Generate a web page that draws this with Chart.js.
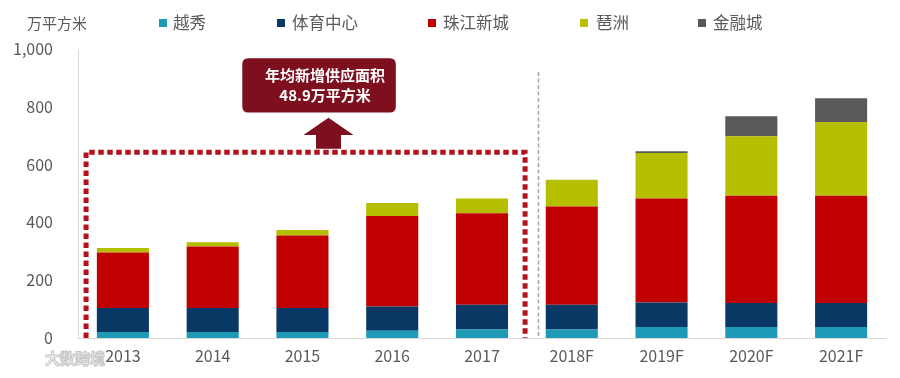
<!DOCTYPE html>
<html>
<head>
<meta charset="utf-8">
<script src="https://cdn.jsdelivr.net/npm/chart.js@4/dist/chart.umd.min.js"></script>
<style>
html,body{margin:0;padding:0;background:#fff;}
#wrap{width:900px;height:378px;position:relative;}
</style>
</head>
<body>
<div id="wrap"><canvas id="c" width="900" height="378"></canvas></div>
<script>
const categories = ['2013','2014','2015','2016','2017','2018F','2019F','2020F','2021F'];
const yuexiu   = [21, 21, 21, 25, 29, 29, 38, 38, 38];
const tiyu     = [83, 83, 83, 84, 86, 86, 85, 83, 83];
const zhujiang = [192, 213, 251, 313, 317, 340, 360, 371, 371];
const pazhou   = [15, 14, 19, 45, 51, 93, 157, 206, 255];
const jinrong  = [0, 0, 0, 0, 0, 0, 6, 69, 83];
const seriesNames = ['越秀','体育中心','珠江新城','琶洲','金融城'];
const yTicks = [0, 200, 400, 600, 800, 1000];
const unitLabel = '万平方米';
const noteLines = ['年均新增供应面积', '48.9万平方米'];
const watermark = '大数跨境';

const colors = ['#1f9ab6', '#0a3864', '#c00000', '#b6be00', '#595959'];
const FONT = "'Noto Sans CJK SC', 'Noto Sans', sans-serif";

const seriesData = [yuexiu, tiyu, zhujiang, pazhou, jinrong];
const datasets = seriesData.map((d, i) => ({
  label: seriesNames[i],
  data: d,
  backgroundColor: colors[i],
  borderWidth: 0,
  barPercentage: 0.58,
  categoryPercentage: 1.0
}));

const legendPos = [
  {sq: 159, tx: 173},
  {sq: 277, tx: 292},
  {sq: 428, tx: 443},
  {sq: 580, tx: 596},
  {sq: 698, tx: 713}
];

const overlay = {
  id: 'overlay',
  beforeDraw(chart) {
    const ctx = chart.ctx;
    ctx.save();
    ctx.fillStyle = '#fff';
    ctx.fillRect(0, 0, chart.width, chart.height);
    ctx.restore();
  },
  afterDraw(chart) {
    const ctx = chart.ctx;
    const xs = chart.scales.x, ys = chart.scales.y;
    const step = xs.getPixelForValue(1) - xs.getPixelForValue(0);
    const xAt = v => xs.getPixelForValue(0) + v * step;
    ctx.save();
    // legend
    ctx.textBaseline = 'middle';
    ctx.fillStyle = '#595959';
    ctx.font = '15px ' + FONT;
    ctx.textAlign = 'left';
    ctx.fillText(unitLabel, 27, 23);
    ctx.font = '16.5px ' + FONT;
    seriesNames.forEach((n, i) => {
      ctx.fillStyle = colors[i];
      ctx.fillRect(legendPos[i].sq, 19, 8, 8);
      ctx.fillStyle = '#595959';
      ctx.fillText(n, legendPos[i].tx, 23);
    });

    // gray dashed divider
    ctx.strokeStyle = '#a6a6a6';
    ctx.lineWidth = 1.5;
    ctx.setLineDash([4, 2.5]);
    const dx = Math.round(xAt(4.62)) + 0.5;
    ctx.beginPath();
    ctx.moveTo(dx, ys.getPixelForValue(920));
    ctx.lineTo(dx, ys.getPixelForValue(0));
    ctx.stroke();

    // dotted red frame
    ctx.strokeStyle = '#b3121c';
    ctx.lineWidth = 5;
    ctx.setLineDash([5.5, 3.5]);
    const l = xAt(-0.41), r = xAt(4.48), t = ys.getPixelForValue(643), b = ys.getPixelForValue(0);
    ctx.beginPath();
    ctx.moveTo(l, b);
    ctx.lineTo(l, t);
    ctx.lineTo(r, t);
    ctx.lineTo(r, b);
    ctx.stroke();
    ctx.setLineDash([]);

    // arrow
    const ac = xAt(2.29);
    const aTop = ys.getPixelForValue(762), aMid = ys.getPixelForValue(702), aBot = ys.getPixelForValue(655);
    ctx.fillStyle = '#7d0f1f';
    ctx.beginPath();
    ctx.moveTo(ac, aTop);
    ctx.lineTo(ac + 25, aMid);
    ctx.lineTo(ac + 12.5, aMid);
    ctx.lineTo(ac + 12.5, aBot);
    ctx.lineTo(ac - 12.5, aBot);
    ctx.lineTo(ac - 12.5, aMid);
    ctx.lineTo(ac - 25, aMid);
    ctx.closePath();
    ctx.fill();

    // note box
    const bl = xAt(1.33), br = xAt(3.04), bt = ys.getPixelForValue(968), bb = ys.getPixelForValue(780);
    const rad = 6;
    ctx.beginPath();
    ctx.moveTo(bl + rad, bt);
    ctx.lineTo(br - rad, bt);
    ctx.quadraticCurveTo(br, bt, br, bt + rad);
    ctx.lineTo(br, bb - rad);
    ctx.quadraticCurveTo(br, bb, br - rad, bb);
    ctx.lineTo(bl + rad, bb);
    ctx.quadraticCurveTo(bl, bb, bl, bb - rad);
    ctx.lineTo(bl, bt + rad);
    ctx.quadraticCurveTo(bl, bt, bl + rad, bt);
    ctx.closePath();
    ctx.fill();
    ctx.fillStyle = '#ffffff';
    ctx.font = 'bold 15px ' + FONT;
    ctx.textAlign = 'center';
    const bc = (bl + br) / 2 + 6;
    ctx.fillText(noteLines[0], bc, bt + 17);
    ctx.fillText(noteLines[1], bc, bt + 37);

    // watermark
    ctx.textAlign = 'left';
    ctx.font = 'bold 15px ' + FONT;
    ctx.lineWidth = 1.2;
    ctx.strokeStyle = '#c8c8c8';
    ctx.fillStyle = 'rgba(255,255,255,0.95)';
    ctx.fillText(watermark, 45, 358);
    ctx.strokeText(watermark, 45, 358);
    ctx.restore();
  }
};

new Chart(document.getElementById('c'), {
  type: 'bar',
  data: { labels: categories, datasets },
  options: {
    responsive: false,
    animation: false,
    devicePixelRatio: 1,
    layout: { padding: { top: 49, right: 14, left: 0, bottom: 0 } },
    plugins: { legend: { display: false }, tooltip: { enabled: false } },
    scales: {
      x: {
        stacked: true,
        grid: { display: false, drawTicks: false },
        border: { display: true, color: '#d9d9d9', width: 1 },
        ticks: { color: '#595959', font: { size: 16, family: FONT }, padding: 8, maxRotation: 0 },
        afterFit(s) { s.height = 40; }
      },
      y: {
        stacked: true,
        min: 0, max: 1000,
        afterBuildTicks(s) { s.ticks = yTicks.map(v => ({ value: v })); },
        grid: { display: false, drawTicks: false },
        border: { display: true, color: '#d9d9d9', width: 1 },
        ticks: {
          color: '#595959', font: { size: 16, family: FONT }, padding: 25,
          callback: v => v.toLocaleString('en-US')
        },
        afterFit(s) { s.width = 78; }
      }
    }
  },
  plugins: [overlay]
});
</script>
</body>
</html>
